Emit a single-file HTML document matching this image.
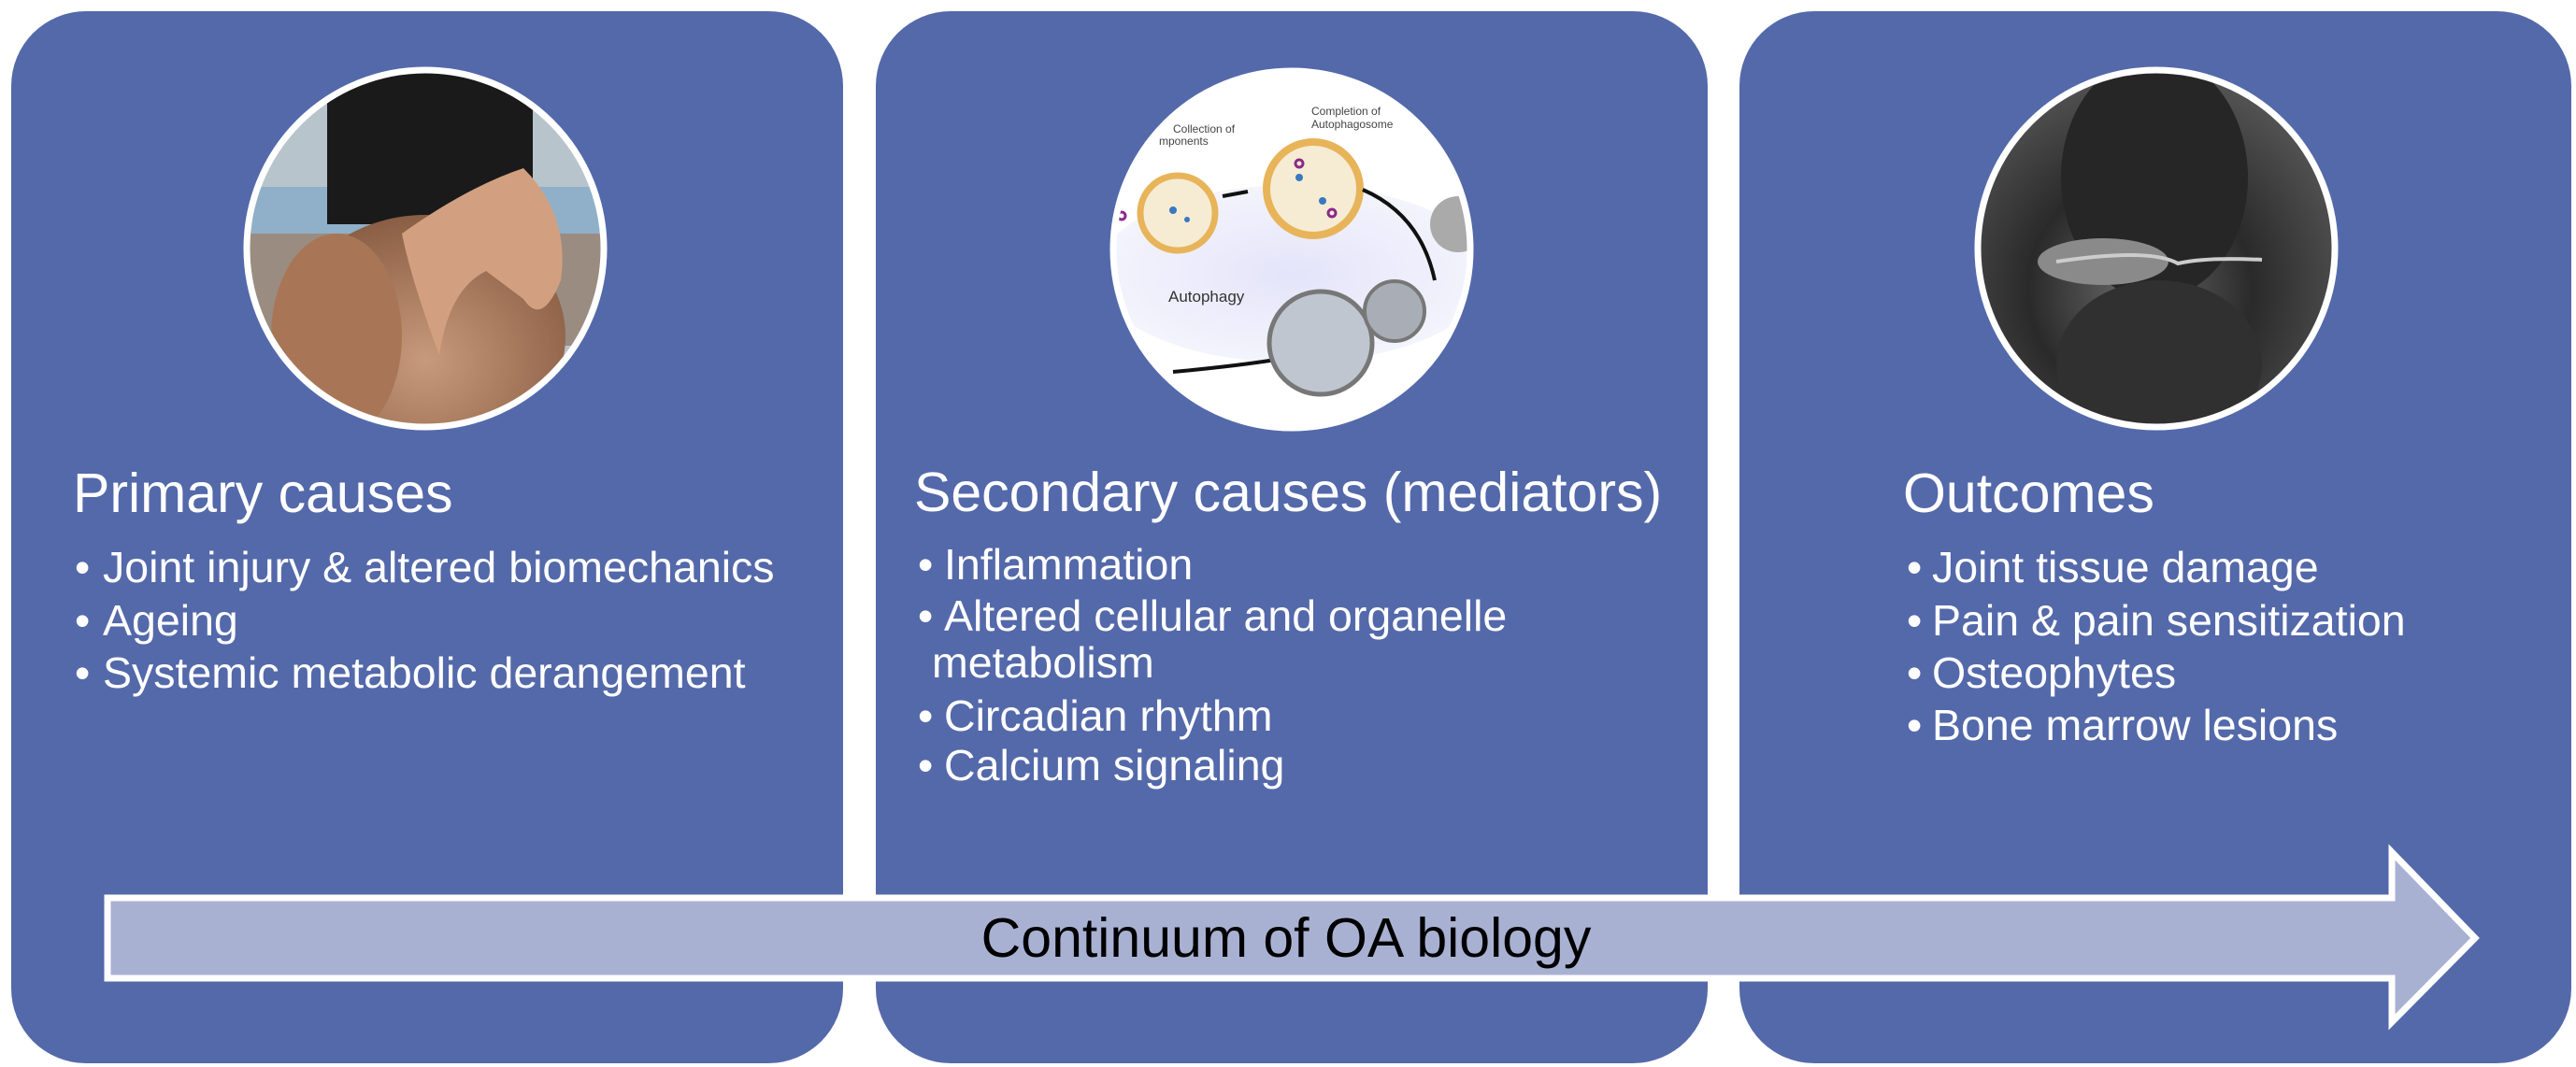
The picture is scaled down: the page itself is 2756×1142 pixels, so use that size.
<!DOCTYPE html>
<html><head><meta charset="utf-8"><style>
html,body{margin:0;padding:0;background:#fff;}
body{width:2756px;height:1142px;overflow:hidden;position:relative;font-family:"Liberation Sans",Arial,sans-serif;}
svg{position:absolute;left:0;top:0;}
</style></head><body>
<svg width="2756" height="1142" viewBox="0 0 2756 1142" xmlns="http://www.w3.org/2000/svg">
<defs>
<clipPath id="c1"><circle cx="455" cy="266" r="190"/></clipPath>
<clipPath id="c2"><circle cx="1382" cy="267" r="190"/></clipPath>
<clipPath id="c3"><circle cx="2307" cy="266" r="190"/></clipPath>
<radialGradient id="skin" cx="0.5" cy="0.6" r="0.6"><stop offset="0" stop-color="#c89a7c"/><stop offset="1" stop-color="#8a5e44"/></radialGradient>
<radialGradient id="mri" cx="0.45" cy="0.6" r="0.6"><stop offset="0" stop-color="#6a6a6a"/><stop offset="0.5" stop-color="#2a2a2a"/><stop offset="1" stop-color="#555"/></radialGradient>
<radialGradient id="lav" cx="0.5" cy="0.5" r="0.5"><stop offset="0" stop-color="#e4e4fa"/><stop offset="1" stop-color="#f4f4fd"/></radialGradient>
</defs>
<g fill="#5469AA">
<rect x="12" y="12" width="890" height="1126" rx="80"/>
<rect x="937" y="12" width="890" height="1126" rx="80"/>
<rect x="1861" y="12" width="890" height="1126" rx="80"/>
</g>
<!-- photo 1 -->
<g clip-path="url(#c1)">
<rect x="260" y="70" width="400" height="400" fill="#b8c4cc"/>
<rect x="260" y="200" width="400" height="50" fill="#8fb0c8"/>
<rect x="260" y="250" width="400" height="120" fill="#9a8c80"/>
<rect x="350" y="70" width="220" height="170" fill="#1a1a1a"/>
<ellipse cx="455" cy="360" rx="150" ry="130" fill="url(#skin)"/>
<ellipse cx="360" cy="360" rx="70" ry="110" fill="#a87656"/>
<path d="M430 250 Q500 200 560 180 Q610 230 600 300 Q580 350 560 320 L520 290 Q480 310 470 380 Q440 300 430 250Z" fill="#d2a080"/>
</g>
<circle cx="455" cy="266" r="191" fill="none" stroke="#fff" stroke-width="7"/>
<!-- photo 2 -->
<g clip-path="url(#c2)">
<rect x="1180" y="70" width="420" height="420" fill="#fff"/>
<ellipse cx="1383" cy="293" rx="210" ry="95" fill="url(#lav)"/>
<circle cx="1260" cy="228" r="40" fill="#f6ecd4" stroke="#e8b45a" stroke-width="7"/>
<circle cx="1405" cy="202" r="50" fill="#f6ecd4" stroke="#e8b45a" stroke-width="8"/>
<g fill="#3a78c0"><circle cx="1390" cy="190" r="4"/><circle cx="1415" cy="215" r="4"/><circle cx="1255" cy="225" r="4"/><circle cx="1270" cy="235" r="3"/></g>
<g fill="none" stroke="#8a2a8a" stroke-width="3"><circle cx="1390" cy="175" r="4"/><circle cx="1425" cy="228" r="4"/><circle cx="1200" cy="231" r="4"/></g>
<path d="M1308 210 L1335 205" stroke="#111" stroke-width="4"/>
<path d="M1458 203 Q1520 230 1535 300" stroke="#111" stroke-width="4" fill="none"/>
<path d="M1255 398 Q1320 392 1365 385" stroke="#111" stroke-width="4" fill="none"/>
<circle cx="1413" cy="367" r="55" fill="#bfc6d0" stroke="#777" stroke-width="5"/>
<circle cx="1492" cy="333" r="32" fill="#a9aeb6" stroke="#777" stroke-width="4"/>
<circle cx="1560" cy="240" r="30" fill="#aaa"/>
<text x="1250" y="323" font-size="17" fill="#333">Autophagy</text>
<text x="1403" y="123" font-size="12" fill="#444">Completion of</text>
<text x="1403" y="137" font-size="12" fill="#444">Autophagosome</text>
<text x="1255" y="142" font-size="12" fill="#444">Collection of</text>
<text x="1240" y="155" font-size="12" fill="#444">mponents</text>
<text x="1525" y="400" font-size="12" fill="#444">Form</text>
</g>
<circle cx="1382" cy="267" r="191" fill="none" stroke="#fff" stroke-width="7"/>
<!-- photo 3 -->
<g clip-path="url(#c3)">
<rect x="2110" y="70" width="400" height="400" fill="url(#mri)"/>
<ellipse cx="2305" cy="190" rx="100" ry="130" fill="#262626"/>
<ellipse cx="2310" cy="390" rx="110" ry="90" fill="#303030"/>
<ellipse cx="2250" cy="280" rx="70" ry="25" fill="#8a8a8a"/>
<path d="M2200 280 Q2300 265 2330 282 Q2360 275 2420 278" stroke="#ccc" stroke-width="4" fill="none"/>
</g>
<circle cx="2307" cy="266" r="191" fill="none" stroke="#fff" stroke-width="7"/>
<!-- text -->
<g fill="#fff" font-size="59">
<text x="78" y="548">Primary causes</text>
<text x="978" y="547">Secondary causes (mediators)</text>
<text x="2036" y="548">Outcomes</text>
</g>
<g fill="#fff" font-size="46.5">
<text x="80" y="623">•</text><text x="110" y="623">Joint injury &amp; altered biomechanics</text>
<text x="80" y="680">•</text><text x="110" y="680">Ageing</text>
<text x="80" y="736">•</text><text x="110" y="736">Systemic metabolic derangement</text>

<text x="982" y="620">•</text><text x="1010" y="620">Inflammation</text>
<text x="982" y="675">•</text><text x="1010" y="675">Altered cellular and organelle</text>
<text x="997" y="725">metabolism</text>
<text x="982" y="782">•</text><text x="1010" y="782">Circadian rhythm</text>
<text x="982" y="835">•</text><text x="1010" y="835">Calcium signaling</text>

<text x="2040" y="623">•</text><text x="2067" y="623">Joint tissue damage</text>
<text x="2040" y="680">•</text><text x="2067" y="680">Pain &amp; pain sensitization</text>
<text x="2040" y="736">•</text><text x="2067" y="736">Osteophytes</text>
<text x="2040" y="792">•</text><text x="2067" y="792">Bone marrow lesions</text>
</g>
<!-- arrow -->
<path d="M115 961 L2559 961 L2559 912 L2648 1004 L2559 1094 L2559 1047 L115 1047 Z" fill="#A9B1D3" stroke="#fff" stroke-width="7" stroke-linejoin="miter"/>
<text x="1376" y="1024" font-size="59" fill="#000" text-anchor="middle">Continuum of OA biology</text>
</svg>
</body></html>
